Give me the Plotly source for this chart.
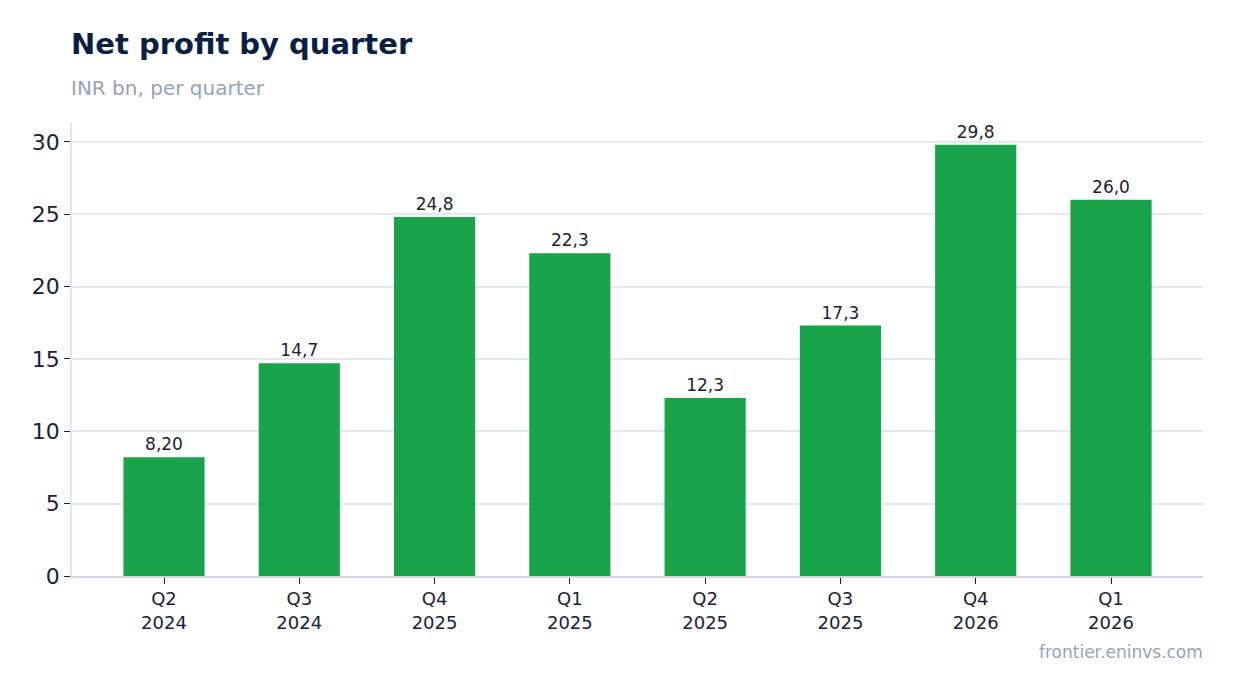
import plotly.graph_objects as go

# trimestres et bénéfice net (INR bn)
quarters = ["Q2<br>2024", "Q3<br>2024", "Q4<br>2025", "Q1<br>2025",
            "Q2<br>2025", "Q3<br>2025", "Q4<br>2026", "Q1<br>2026"]
profit = [8.20, 14.7, 24.8, 22.3, 12.3, 17.3, 29.8, 26.0]
y_ticks = [0, 5, 10, 15, 20, 25, 30]

fig = go.Figure()
fig.add_trace(go.Bar(
    x=quarters, y=profit,
    marker=dict(color="#19a34a", line=dict(width=0)),
    width=0.6,
    texttemplate="%{y:.3g}",
    textposition="outside",
    textfont=dict(size=17, color="#1a2236"),
    cliponaxis=False,
))

# la page ajoute 8px de marge autour du graphique
fig.update_layout(
    width=1234, height=693,
    margin=dict(l=64, r=39, t=115, b=125),
    paper_bgcolor="white", plot_bgcolor="white",
    separators=",.",
    font=dict(family="DejaVu Sans", color="#1a2236"),
    showlegend=False,
    annotations=[
        dict(text="<b>Net profit by quarter</b>", xref="paper", yref="paper",
             x=0, y=1, xshift=-3, yshift=79, xanchor="left", yanchor="middle",
             showarrow=False, font=dict(size=29, color="#0b1f44")),
        dict(text="INR bn, per quarter", xref="paper", yref="paper",
             x=0, y=1, xshift=-3, yshift=35, xanchor="left", yanchor="middle",
             showarrow=False, font=dict(size=20, color="#94a3b8")),
        dict(text="frontier.eninvs.com", xref="paper", yref="paper",
             x=1, y=0, xshift=2, yshift=-76, xanchor="right", yanchor="middle",
             showarrow=False, font=dict(size=17, color="#94a3b8")),
    ],
)
fig.update_xaxes(
    range=[-0.68, 7.68],
    showline=True, linecolor="#cfd6e2", linewidth=1.5,
    ticks="outside", ticklen=6, tickcolor="#1a2236",
    tickfont=dict(size=18, color="#1a2236"),
    showgrid=False,
)
fig.update_yaxes(
    range=[0, 31.3], tickvals=y_ticks,
    showline=True, linecolor="#e2e8f0", linewidth=1.5,
    ticks="outside", ticklen=6, tickcolor="#1a2236",
    tickfont=dict(size=22, color="#1a2236"),
    gridcolor="#e2e8f0", gridwidth=1.5, zeroline=False,
)

fig.write_html("out.html")
